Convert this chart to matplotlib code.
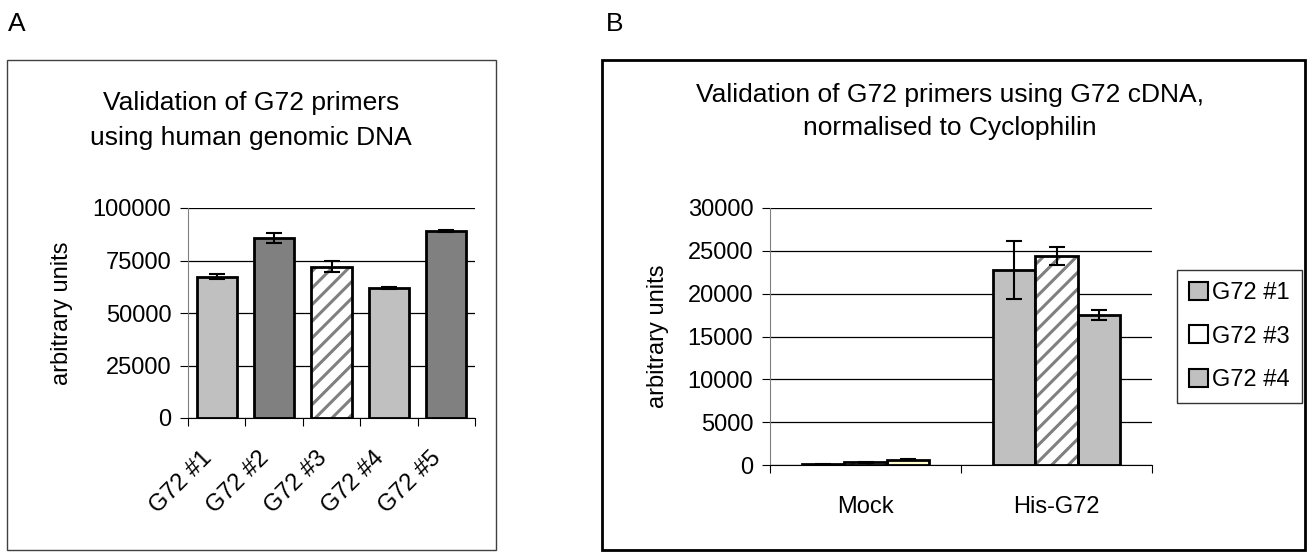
import numpy as np
import matplotlib.pyplot as plt
import matplotlib.transforms as mtransforms
from matplotlib.patches import Rectangle, Patch

W, H = 1307, 552
plt.rcParams['font.family'] = ['Liberation Sans', 'DejaVu Sans']
plt.rcParams['hatch.linewidth'] = 2.2

# panel A data
primers_a = ['G72 #1', 'G72 #2', 'G72 #3', 'G72 #4', 'G72 #5']
values_a = [67300, 85700, 72100, 61900, 89000]
errors_a = [1100, 2400, 2700, 500, 400]
colors_a = ['#c0c0c0', '#808080', 'hatch', '#c0c0c0', '#808080']
yticks_a = [0, 25000, 50000, 75000, 100000]

# panel B data
groups_b = ['Mock', 'His-G72']
series_b = ['G72 #1', 'G72 #3', 'G72 #4']
g72_1 = [80, 22800]
g72_1_err = [40, 3400]
g72_3 = [300, 24400]
g72_3_err = [60, 1000]
g72_4 = [600, 17500]
g72_4_err = [60, 600]
yticks_b = [0, 5000, 10000, 15000, 20000, 25000, 30000]

FS = 17


def px(x0, y0, x1, y1):
    # pixel box (top-left origin) -> figure rect
    return [x0 / W, 1 - y1 / H, (x1 - x0) / W, (y1 - y0) / H]


def style_axes(ax, yticks):
    ax.set_ylim(yticks[0], yticks[-1])
    ax.set_yticks(yticks)
    ax.set_yticklabels([str(t) for t in yticks], fontsize=FS)
    ax.yaxis.grid(True, color='black', linewidth=0.9)
    ax.set_axisbelow(True)
    for s in ['top', 'right']:
        ax.spines[s].set_visible(False)
    ax.spines['left'].set_color('#808080')
    ax.spines['bottom'].set_color('black')
    ax.tick_params(axis='y', direction='out', length=6, color='black', pad=6)
    ax.set_ylabel('arbitrary units', fontsize=FS)


def draw_bar(ax, x, h, w, color, err):
    if color == 'hatch':
        ax.bar(x, h, w, color='white', edgecolor='#808080', hatch='//', linewidth=0, zorder=2)
        ax.bar(x, h, w, fill=False, edgecolor='black', linewidth=2, zorder=3)
    else:
        ax.bar(x, h, w, color=color, edgecolor='black', linewidth=2, zorder=2)
    ax.errorbar(x, h, yerr=err, fmt='none', ecolor='black', elinewidth=1.5,
                capsize=6, capthick=1.5, zorder=4)


fig = plt.figure(figsize=(W / 100, H / 100), dpi=100)

# frames and panel letters
fig.patches.append(Rectangle((7 / W, 1 - 550 / H), 489 / W, 490 / H, transform=fig.transFigure,
                             fill=False, edgecolor='#404040', linewidth=1))
fig.patches.append(Rectangle((602 / W, 1 - 550 / H), 703 / W, 490 / H, transform=fig.transFigure,
                             fill=False, edgecolor='black', linewidth=2))
fig.text(8 / W, 1 - 24 / H, 'A', fontsize=19, va='center', ha='left')
fig.text(606 / W, 1 - 24 / H, 'B', fontsize=19, va='center', ha='left')

# panel A
axA = fig.add_axes(px(188, 208, 475, 418))
style_axes(axA, yticks_a)
for i, (v, e, c) in enumerate(zip(values_a, errors_a, colors_a)):
    draw_bar(axA, i, v, 0.7, c, e)
axA.set_xlim(-0.5, len(primers_a) - 0.5)
axA.set_xticks(np.arange(len(primers_a) + 1) - 0.5)
axA.set_xticklabels([])
axA.set_xticks(np.arange(len(primers_a)), minor=True)
axA.set_xticklabels(primers_a, minor=True, rotation=45, ha='right', rotation_mode='anchor',
                    fontsize=FS)
axA.tick_params(axis='x', which='major', direction='out', length=6)
axA.tick_params(axis='x', which='minor', length=0, pad=21)
shift = mtransforms.ScaledTranslation(-16 / 100, 0, fig.dpi_scale_trans)
for lab in axA.get_xticklabels(minor=True):
    lab.set_transform(lab.get_transform() + shift)
axA.yaxis.set_label_coords(-0.40, 0.5)
fig.text(251 / W, 1 - 103 / H, 'Validation of G72 primers', fontsize=19, ha='center', va='center')
fig.text(251 / W, 1 - 138 / H, 'using human genomic DNA', fontsize=19, ha='center', va='center')

# panel B
axB = fig.add_axes(px(770, 208, 1152, 465))
style_axes(axB, yticks_b)
x = np.arange(len(groups_b))
bw = 0.222
draw_bar(axB, x - bw, g72_1, bw, '#c0c0c0', g72_1_err)
draw_bar(axB, x, g72_3, bw, 'hatch', g72_3_err)
axB.bar(x + bw, g72_4, bw, color=['#ffffcc', '#c0c0c0'], edgecolor='black', linewidth=2, zorder=2)
axB.errorbar(x + bw, g72_4, yerr=g72_4_err, fmt='none', ecolor='black', elinewidth=1.5,
             capsize=6, capthick=1.5, zorder=4)
axB.set_xlim(-0.5, len(groups_b) - 0.5)
axB.set_xticks(np.arange(len(groups_b) + 1) - 0.5)
axB.set_xticklabels([])
axB.set_xticks(x, minor=True)
axB.set_xticklabels(groups_b, minor=True, fontsize=FS)
axB.tick_params(axis='x', which='major', direction='out', length=6)
axB.tick_params(axis='x', which='minor', length=0, pad=22)
axB.yaxis.set_label_coords(-0.264, 0.5)
fig.text(950 / W, 1 - 95 / H, 'Validation of G72 primers using G72 cDNA,', fontsize=19,
         ha='center', va='center')
fig.text(950 / W, 1 - 128 / H, 'normalised to Cyclophilin', fontsize=19, ha='center', va='center')

handles = [Patch(facecolor='#c0c0c0', edgecolor='black', linewidth=1.5),
           Patch(facecolor='white', edgecolor='black', linewidth=1.5),
           Patch(facecolor='#c0c0c0', edgecolor='black', linewidth=1.5)]
leg = fig.legend(handles, series_b, loc='upper left', bbox_to_anchor=(1177 / W, 1 - 270 / H),
                 fontsize=FS, frameon=True, fancybox=False, edgecolor='black',
                 handlelength=0.8, handleheight=0.8, handletextpad=0.2, labelspacing=0.9,
                 borderpad=0.5, borderaxespad=0)
leg.get_frame().set_linewidth(1)

fig.savefig('out.png', dpi=100)
